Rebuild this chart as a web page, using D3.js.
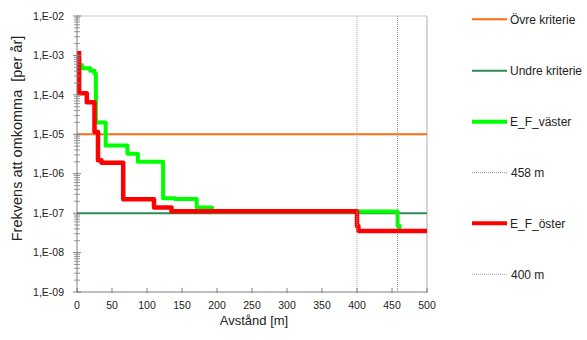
<!DOCTYPE html>
<html><head><meta charset="utf-8">
<script src="https://cdn.jsdelivr.net/npm/d3@7"></script>
<style>
html,body{margin:0;padding:0;background:#fff;}
text{font-family:"Liberation Sans",Arial,sans-serif;fill:#222;}
</style></head>
<body><svg id="c" width="587" height="340"></svg>
<script>
// ---- data ----
const xTicks = [0,50,100,150,200,250,300,350,400,450,500];
const yTickExps = [-2,-3,-4,-5,-6,-7,-8,-9];
const yTickLabels = ["1,E-02","1,E-03","1,E-04","1,E-05","1,E-06","1,E-07","1,E-08","1,E-09"];
const ovreKriterie = 1e-5;
const undreKriterie = 1e-7;
const line458 = 458;
const line400 = 400;
// step series (value holds from x until next x)
const vasterX = [0, 7, 19, 25, 27, 41, 72, 87, 123, 140, 171, 193, 458, 461, 463];
const vasterY = [5.7e-4, 4.7e-4, 4.1e-4, 3.5e-4, 2.0e-5, 5.2e-6, 3.2e-6, 2.0e-6, 2.4e-7, 2.3e-7, 1.4e-7, 1.1e-7, 4.7e-8, 4.1e-8, 4.1e-8];
const osterX = [3, 3, 14, 25, 30, 35, 66, 110, 135, 400, 402, 500];
const osterY = [1.3e-3, 1.1e-4, 6.5e-5, 1.15e-5, 2.2e-6, 1.9e-6, 2.26e-7, 1.4e-7, 1.12e-7, 4.7e-8, 3.5e-8, 3.5e-8];
const legendLabels = ["Övre kriterie","Undre kriterie","E_F_väster","458 m","E_F_öster","400 m"];

// ---- chart ----
const svg = d3.select("#c");
const x = d3.scaleLinear().domain([0,500]).range([77,427]);
const y = d3.scaleLog().domain([1e-9,1e-2]).range([292,16]);

const cOrange="#FF6A13", cTeal="#2E8B57", cGreen="#00FF00", cRed="#FF0000";

// plot border top/right
svg.append("line").attr("x1",x(0)).attr("x2",x(500)).attr("y1",y(1e-2)).attr("y2",y(1e-2))
  .attr("stroke","#c8c8c8").attr("stroke-width",1.2);
svg.append("line").attr("x1",x(500)).attr("x2",x(500)).attr("y1",y(1e-2)).attr("y2",y(1e-9))
  .attr("stroke","#c8c8c8").attr("stroke-width",1.5);

// criteria
svg.append("line").attr("x1",x(0)).attr("x2",x(500)).attr("y1",y(ovreKriterie)).attr("y2",y(ovreKriterie))
  .attr("stroke",cOrange).attr("stroke-width",2);
svg.append("line").attr("x1",x(0)).attr("x2",x(500)).attr("y1",y(undreKriterie)).attr("y2",y(undreKriterie))
  .attr("stroke",cTeal).attr("stroke-width",2);

const lineGen = d3.line().x(d=>x(d[0])).y(d=>y(d[1])).curve(d3.curveStepAfter);

svg.append("path").datum(vasterX.map((v,i)=>[v,vasterY[i]]))
  .attr("d",lineGen).attr("fill","none").attr("stroke",cGreen).attr("stroke-width",4)
  .attr("stroke-linejoin","round");
svg.append("line").attr("x1",x(line458)).attr("x2",x(line458)).attr("y1",y(1e-2)).attr("y2",y(1e-9))
  .attr("stroke","#8a8a8a").attr("stroke-width",1).attr("stroke-dasharray","1,1");
svg.append("path").datum(osterX.map((v,i)=>[v,osterY[i]]))
  .attr("d",lineGen).attr("fill","none").attr("stroke",cRed).attr("stroke-width",4.5)
  .attr("stroke-linejoin","round");
svg.append("line").attr("x1",x(line400)).attr("x2",x(line400)).attr("y1",y(1e-2)).attr("y2",y(1e-9))
  .attr("stroke","#a8a8a8").attr("stroke-width",1).attr("stroke-dasharray","1,1");

// axes
const axisColor="#808080";
const gy = svg.append("g");
gy.append("line").attr("x1",x(0)).attr("x2",x(0)).attr("y1",y(1e-2)).attr("y2",y(1e-9)).attr("stroke",axisColor);
// minor ticks
yTickExps.forEach(e=>{
  if(e===-2) return;
  for(let m=2;m<=9;m++){
    const v=m*Math.pow(10,e);
    gy.append("line").attr("x1",x(0)-3).attr("x2",x(0)+3).attr("y1",y(v)).attr("y2",y(v))
      .attr("stroke",axisColor).attr("stroke-width",0.8);
  }
});
yTickExps.forEach((e,i)=>{
  const v=Math.pow(10,e);
  gy.append("line").attr("x1",x(0)-4).attr("x2",x(0)+4).attr("y1",y(v)).attr("y2",y(v)).attr("stroke",axisColor);
  gy.append("text").attr("x",64).attr("y",y(v)).attr("dy","0.36em").attr("text-anchor","end")
    .attr("font-size","10.5px").text(yTickLabels[i]);
});
const gx = svg.append("g");
gx.append("line").attr("x1",x(0)).attr("x2",x(500)).attr("y1",y(1e-9)).attr("y2",y(1e-9)).attr("stroke",axisColor);
xTicks.forEach(t=>{
  gx.append("line").attr("x1",x(t)).attr("x2",x(t)).attr("y1",y(1e-9)-4).attr("y2",y(1e-9)+1).attr("stroke",axisColor);
  gx.append("text").attr("x",x(t)).attr("y",309).attr("text-anchor","middle").attr("font-size","10.5px").text(t);
});

// titles
svg.append("text").attr("x",254).attr("y",325).attr("text-anchor","middle").attr("font-size","13px").text("Avstånd [m]");
svg.append("text").attr("transform","translate(22,138.5) rotate(-90)").attr("text-anchor","middle")
  .attr("font-size","14.5px").attr("xml:space","preserve").style("white-space","pre").text("Frekvens att omkomma  [per år]");

// legend
const legY=[19.3,70.7,121.7,172.7,223.3,274.3];
const legStyle=[
  {c:cOrange,w:2,d:null},{c:cTeal,w:2,d:null},{c:cGreen,w:4,d:null},
  {c:"#8a8a8a",w:1,d:"1,1"},{c:cRed,w:4,d:null},{c:"#a8a8a8",w:1,d:"1,1"}];
legendLabels.forEach((lab,i)=>{
  const s=legStyle[i];
  svg.append("line").attr("x1",472).attr("x2",507).attr("y1",legY[i]).attr("y2",legY[i])
    .attr("stroke",s.c).attr("stroke-width",s.w).attr("stroke-dasharray",s.d);
  svg.append("text").attr("x",i===3||i===5?511:510).attr("y",legY[i]).attr("dy","0.36em")
    .attr("font-size","12px").text(lab);
});
</script></body></html>
